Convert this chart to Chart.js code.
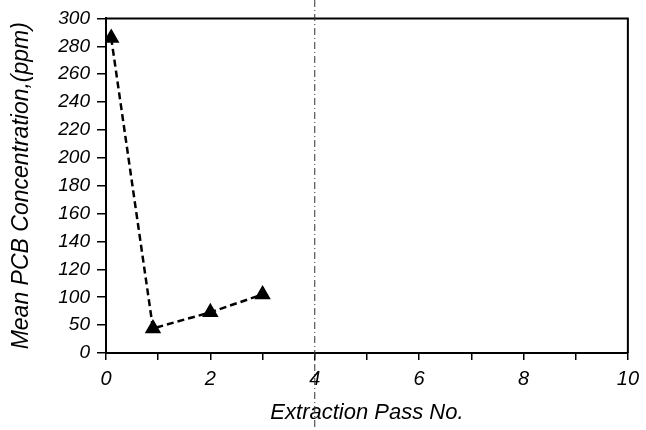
<!DOCTYPE html>
<html>
<head>
<meta charset="utf-8">
<script src="https://cdn.jsdelivr.net/npm/chart.js@4.4.1/dist/chart.umd.min.js"></script>
<style>
  html, body { margin: 0; padding: 0; background: #fff; }
  #wrap { width: 646px; height: 430px; }
</style>
</head>
<body>
<div id="wrap"><canvas id="pcb_chart"></canvas></div>
<script>
// data
const passNo = [0.1, 0.9, 2.0, 3.0];
const meanPcb = [286, 44, 73, 102];
// y tick labels, evenly spaced on the axis (the original axis is not linear)
const yTickValues = [0, 50, 100, 120, 140, 160, 180, 200, 220, 240, 260, 280, 300];
const xTickValues = [0, 1, 2, 3, 4, 5, 6, 7, 8, 9, 10];
const markerPass = 4;

// scale that puts every tick value at the same spacing, straight line between them
class SegmentScale extends Chart.LinearScale {
  static id = 'segment';
  static defaults = Chart.LinearScale.defaults;

  buildTicks() {
    this.start = this.min;
    this.end = this.max;
    return yTickValues.map(v => ({ value: v }));
  }
  toIndex(v) {
    const t = yTickValues;
    if (v <= t[0]) return 0;
    for (let i = 1; i < t.length; i++) {
      if (v <= t[i]) return i - 1 + (v - t[i - 1]) / (t[i] - t[i - 1]);
    }
    return t.length - 1;
  }
  getPixelForValue(v) {
    return this.getPixelForDecimal(this.toIndex(v) / (yTickValues.length - 1));
  }
  getValueForPixel(p) {
    const idx = this.getDecimalForPixel(p) * (yTickValues.length - 1);
    const i = Math.max(0, Math.min(yTickValues.length - 2, Math.floor(idx)));
    return yTickValues[i] + (idx - i) * (yTickValues[i + 1] - yTickValues[i]);
  }
}
Chart.register(SegmentScale);

const frame = {
  id: 'frame',
  afterDraw(chart) {
    const { ctx, chartArea: a } = chart;
    ctx.save();
    ctx.strokeStyle = '#000';
    ctx.lineWidth = 2;
    ctx.beginPath();
    ctx.moveTo(a.left, a.top);
    ctx.lineTo(a.right, a.top);
    ctx.lineTo(a.right, a.bottom);
    ctx.stroke();
    // the thin dash-dot line running down the scan
    const x = chart.scales.x.getPixelForValue(markerPass);
    ctx.strokeStyle = '#333';
    ctx.lineWidth = 1;
    ctx.setLineDash([7, 3, 1, 3]);
    ctx.beginPath();
    ctx.moveTo(x, 0);
    ctx.lineTo(x, chart.height);
    ctx.stroke();
    ctx.restore();
  }
};

const fontFam = '"Liberation Sans", Arial, sans-serif';

new Chart(document.getElementById('pcb_chart'), {
  type: 'line',
  data: {
    datasets: [{
      data: passNo.map((x, i) => ({ x: x, y: meanPcb[i] })),
      borderColor: '#000',
      backgroundColor: '#000',
      borderWidth: 2.5,
      borderDash: [7, 4],
      pointStyle: 'triangle',
      pointRadius: 7,
      pointBackgroundColor: '#000',
      pointBorderColor: '#000',
      tension: 0
    }]
  },
  options: {
    responsive: true,
    maintainAspectRatio: false,
    animation: false,
    layout: { padding: { left: 8, top: 15, right: 16, bottom: 4 } },
    plugins: { legend: { display: false }, tooltip: { enabled: false } },
    scales: {
      x: {
        type: 'linear',
        min: 0,
        max: 10,
        afterBuildTicks: s => { s.ticks = xTickValues.map(v => ({ value: v })); },
        afterFit: s => { s.height = 73; },
        grid: { display: true, drawOnChartArea: false, drawTicks: true, tickLength: 7, color: '#000', lineWidth: 1.5 },
        border: { display: true, color: '#000', width: 2 },
        ticks: {
          autoSkip: false,
          maxRotation: 0,
          padding: 7,
          color: '#000',
          font: { family: fontFam, size: 20, style: 'italic' },
          callback: v => (v % 2 === 0 ? String(v) : '')
        },
        title: {
          display: true,
          text: 'Extraction Pass No.',
          color: '#000',
          font: { family: fontFam, size: 22, style: 'italic' },
          padding: { top: 0, bottom: 0 }
        }
      },
      y: {
        type: 'segment',
        min: 0,
        max: 300,
        afterFit: s => { s.width = 98; },
        grid: { display: true, drawOnChartArea: false, drawTicks: true, tickLength: 9, color: '#000', lineWidth: 1.5 },
        border: { display: true, color: '#000', width: 2 },
        ticks: {
          autoSkip: false,
          padding: 7,
          color: '#000',
          font: { family: fontFam, size: 19, style: 'italic' }
        },
        title: {
          display: true,
          text: 'Mean PCB Concentration,(ppm)',
          color: '#000',
          font: { family: fontFam, size: 23, style: 'italic' },
          padding: { top: 0, bottom: 0 }
        }
      }
    }
  },
  plugins: [frame]
});
</script>
</body>
</html>
